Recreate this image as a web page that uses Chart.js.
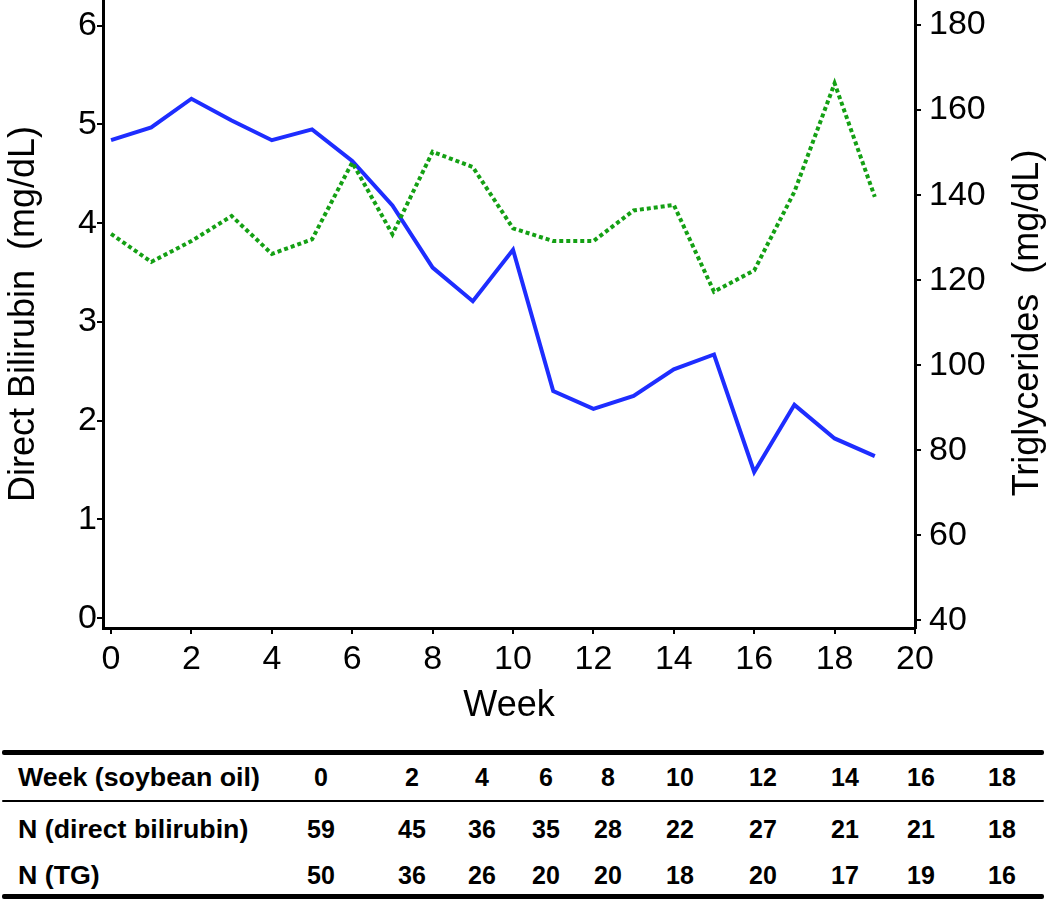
<!DOCTYPE html>
<html>
<head>
<meta charset="utf-8">
<script src="https://cdn.jsdelivr.net/npm/chart.js@4.4.0/dist/chart.umd.min.js"></script>
<style>
  body { margin: 0; background: #fff; }
  #wrap { position: relative; width: 1050px; height: 901px; }
  #chartBox { position: absolute; left: 0; top: 0; width: 1050px; height: 740px; }
  .rule { position: absolute; left: 2px; width: 1042px; background: #000; border-radius: 2px; }
  .cell { position: absolute; font: bold 25px 'Liberation Sans', Arial, sans-serif; color: #000; white-space: nowrap; line-height: 1; }
  .label { left: 18px; transform-origin: left center; transform: translateY(-50%) scaleX(1.07); }
  .num { transform: translate(-50%, -50%); }
</style>
</head>
<body>
<div id="wrap">
  <div id="chartBox"><canvas id="chart"></canvas></div>
  <div class="rule" style="top:750px;height:5px"></div>
  <div class="rule" style="top:800px;height:2px"></div>
  <div class="rule" style="top:894px;height:5px"></div>
  <div id="table"></div>
</div>
<script>
// 주차별 평균값
const weeks = [0, 1, 2, 3, 4, 5, 6, 7, 8, 9, 10, 11, 12, 13, 14, 15, 16, 17, 18, 19];
const bilirubin = [4.84, 4.97, 5.26, 5.04, 4.84, 4.95, 4.63, 4.18, 3.55, 3.21, 3.73, 2.30, 2.12, 2.25, 2.52, 2.67, 1.48, 2.16, 1.82, 1.64];
const triglycerides = [130.9, 124.3, 129.2, 135.1, 126.2, 129.6, 147.7, 130.8, 150.2, 146.6, 132.2, 129.2, 129.2, 136.4, 137.7, 117.3, 122.3, 140.8, 166.3, 139.6];

// 아래 표
const tableWeeks = ['0', '2', '4', '6', '8', '10', '12', '14', '16', '18'];
const nBilirubin = ['59', '45', '36', '35', '28', '22', '27', '21', '21', '18'];
const nTG = ['50', '36', '26', '20', '20', '18', '20', '17', '19', '16'];
const rowLabels = ['Week (soybean oil)', 'N (direct bilirubin)', 'N (TG)'];

// 표 배치 (열 중심 x, 행 중심 y)
const colX = [321, 412, 482, 546, 608, 680, 763, 845, 921, 1002];
const rowY = [777, 829, 875];

const table = document.getElementById('table');
[tableWeeks, nBilirubin, nTG].forEach(function(row, r) {
  const lab = document.createElement('div');
  lab.className = 'cell label';
  lab.style.top = rowY[r] + 'px';
  lab.textContent = rowLabels[r];
  table.appendChild(lab);
  row.forEach(function(v, c) {
    const d = document.createElement('div');
    d.className = 'cell num';
    d.style.left = colX[c] + 'px';
    d.style.top = rowY[r] + 'px';
    d.textContent = v;
    table.appendChild(d);
  });
});

const FONT = "'Liberation Sans', Arial, sans-serif";
Chart.defaults.font.family = FONT;
Chart.defaults.color = '#000';

// 오른쪽 축 제목은 아래에서 위로 읽히도록 직접 그림
const rightTitle = {
  id: 'rightTitle',
  afterDraw(chart) {
    const s = chart.scales.y1;
    const ctx = chart.ctx;
    ctx.save();
    ctx.translate(s.right - 22, 323);
    ctx.rotate(-Math.PI / 2);
    ctx.font = '36px ' + FONT;
    ctx.fillStyle = '#000';
    ctx.textAlign = 'center';
    ctx.textBaseline = 'middle';
    ctx.fillText('Triglycerides  (mg/dL)', 0, 0);
    ctx.restore();
  }
};

function axisCommon() {
  return {
    grid: { drawOnChartArea: false, color: '#000', lineWidth: 2, tickLength: 6 },
    border: { color: '#000', width: 3 }
  };
}

new Chart(document.getElementById('chart'), {
  type: 'line',
  data: {
    datasets: [{
      label: 'Triglycerides',
      data: weeks.map((w, i) => ({ x: w, y: triglycerides[i] })),
      yAxisID: 'y1',
      borderColor: '#14a014',
      borderWidth: 4,
      borderDash: [4, 3],
      pointRadius: 0,
      tension: 0
    }, {
      label: 'Direct Bilirubin',
      data: weeks.map((w, i) => ({ x: w, y: bilirubin[i] })),
      yAxisID: 'y',
      borderColor: '#1e2dff',
      borderWidth: 4,
      pointRadius: 0,
      tension: 0
    }]
  },
  options: {
    responsive: true,
    maintainAspectRatio: false,
    animation: false,
    layout: { padding: 0 },
    plugins: { legend: { display: false }, tooltip: { enabled: false } },
    scales: {
      x: Object.assign(axisCommon(), {
        type: 'linear',
        min: -0.2,
        max: 20,
        ticks: { stepSize: 2, includeBounds: false, font: { size: 34 }, padding: 5, maxRotation: 0, autoSkip: false },
        title: { display: true, text: 'Week', font: { size: 36 }, padding: { top: 0, bottom: 12 } },
        afterFit(s) { s.height = 112; s.paddingLeft = 0; s.paddingRight = 0; }
      }),
      y: Object.assign(axisCommon(), {
        position: 'left',
        min: -0.1,
        max: 6.26,
        ticks: { stepSize: 1, includeBounds: false, font: { size: 34 }, padding: 0 },
        title: { display: true, text: 'Direct Bilirubin  (mg/dL)', font: { size: 36 }, padding: { top: 2, bottom: 0 } },
        afterFit(s) { s.width = 103; s.paddingTop = 0; s.paddingBottom = 0; }
      }),
      y1: Object.assign(axisCommon(), {
        position: 'right',
        min: 38.2,
        max: 185.9,
        ticks: { stepSize: 20, includeBounds: false, font: { size: 34 }, padding: 8 },
        afterFit(s) { s.width = 135; s.paddingTop = 0; s.paddingBottom = 0; }
      })
    }
  },
  plugins: [rightTitle]
});
</script>
</body>
</html>
